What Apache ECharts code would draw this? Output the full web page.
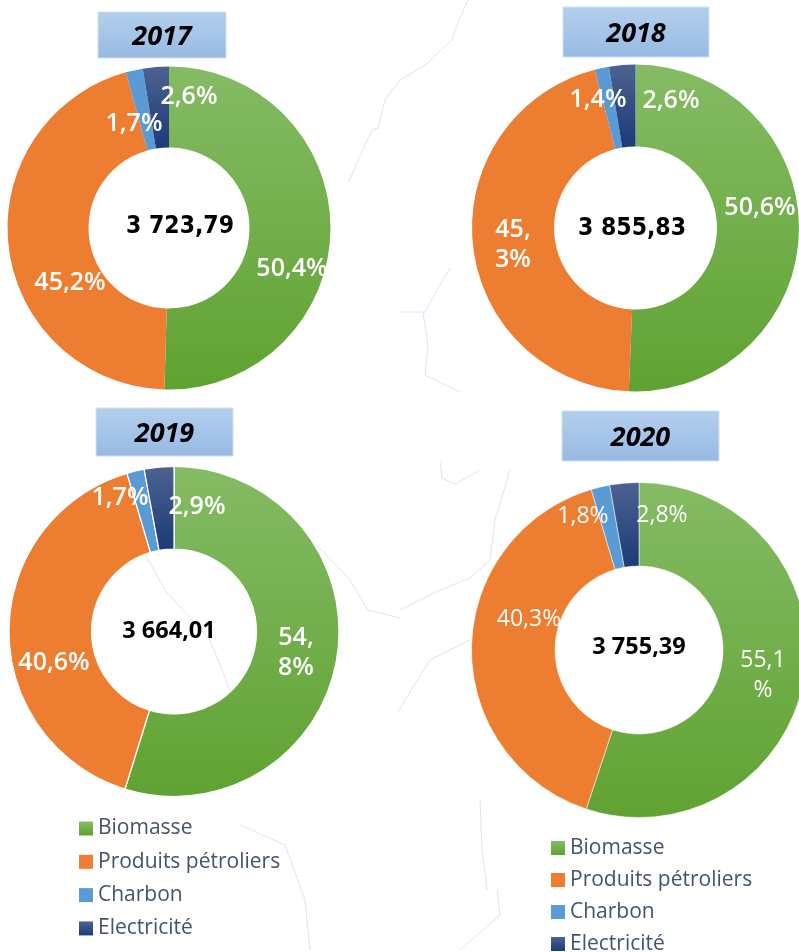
<!DOCTYPE html>
<html>
<head>
<meta charset="utf-8">
<title>Consommation d'énergie 2017-2020</title>
<script src="https://cdn.jsdelivr.net/npm/echarts@6/dist/echarts.min.js"></script>
<style>
  html, body { margin: 0; padding: 0; background: #fff; }
  #chart { width: 799px; height: 952px; }
</style>
</head>
<body>
<div id="chart"></div>
<script>
// Data
const categories = ['Biomasse', 'Produits pétroliers', 'Charbon', 'Electricité'];
const years = ['2017', '2018', '2019', '2020'];
const totals = ['3 723,79', '3 855,83', '3 664,01', '3 755,39'];
const values2017 = [50.4, 45.2, 1.7, 2.6];
const values2018 = [50.6, 45.3, 1.4, 2.6];
const values2019 = [54.8, 40.6, 1.7, 2.9];
const values2020 = [55.1, 40.3, 1.8, 2.8];
const labels2017 = ['50,4%', '45,2%', '1,7%', '2,6%'];
const labels2018 = ['50,6%', '45,\n3%', '1,4%', '2,6%'];
const labels2019 = ['54,\n8%', '40,6%', '1,7%', '2,9%'];
const labels2020 = ['55,1\n%', '40,3%', '1,8%', '2,8%'];

// Layout of each panel, measured on the reference
const panels = [
  { values: values2017, labels: labels2017, cx: 169, cy: 228, r0: 80.5, r: 161.5, box: [98, 12, 128, 46], total: [180, 227], bold: true, line: 0,
    labelPos: [[292, 269], [70, 283], [134, 124], [189, 97]] },
  { values: values2018, labels: labels2018, cx: 635.5, cy: 228, r0: 81.5, r: 163.5, box: [563, 7, 146, 50], total: [632, 229], bold: true, line: 0,
    labelPos: [[760, 208], [513, 245], [598, 100], [671, 101]] },
  { values: values2019, labels: labels2019, cx: 174, cy: 631.5, r0: 82.5, r: 165, box: [96, 408, 137, 48], total: [169, 631], bold: true, line: 1.2,
    labelPos: [[296, 653], [54, 663], [120, 498], [197, 507]] },
  { values: values2020, labels: labels2020, cx: 639, cy: 650, r0: 84, r: 167.5, box: [562, 411, 157, 50], total: [639, 647], bold: false, line: 0.5,
    labelPos: [[763, 675], [529, 619], [583, 516], [662, 515]] }
];

function vertical(top, bottom) {
  return new echarts.graphic.LinearGradient(0, 0, 0, 1, [
    { offset: 0, color: top },
    { offset: 1, color: bottom }
  ]);
}

const colors = [
  vertical('#85bb64', '#60a232'),
  '#ed7d31',
  '#5b9bd5',
  vertical('#4d6290', '#1b3a78')
];

// faint river lines of the map behind the charts
const mapLines = [
  [[349, 182], [358, 160], [372, 130], [378, 128], [385, 100], [400, 80], [425, 65], [452, 40], [458, 22], [468, 0]],
  [[450, 268], [437, 290], [425, 312], [400, 312]],
  [[423, 312], [428, 345], [425, 375], [460, 392]],
  [[440, 462], [442, 478], [455, 484], [480, 470]],
  [[510, 470], [495, 520], [490, 560], [470, 578], [440, 590], [400, 610]],
  [[470, 640], [430, 660], [405, 700], [398, 712]],
  [[317, 545], [350, 580], [368, 610], [400, 618]],
  [[240, 825], [285, 845], [305, 900], [310, 950]],
  [[480, 800], [482, 850], [487, 890]],
  [[497, 890], [500, 915], [460, 950]],
  [[140, 545], [165, 590], [210, 640], [230, 690]]
];

const graphics = [];
mapLines.forEach(points => {
  graphics.push({
    type: 'polyline',
    z: -10,
    shape: { points: points },
    style: { stroke: '#e6defa', lineWidth: 1, fill: null }
  });
});

panels.forEach((p, i) => {
  const [x, y, w, h] = p.box;
  graphics.push({
    type: 'rect',
    shape: { x: x, y: y, width: w, height: h },
    style: {
      fill: vertical('#b3cfed', '#97bae3'),
      stroke: '#cfe0f3',
      lineWidth: 1
    }
  });
  graphics.push({
    type: 'text',
    x: x + w / 2,
    y: y + h / 2 + 2,
    style: {
      text: years[i],
      fill: '#000',
      font: 'italic bold 27px "Open Sans"',
      align: 'center',
      verticalAlign: 'middle'
    }
  });
  graphics.push({
    type: 'text',
    x: p.total[0],
    y: p.total[1],
    style: {
      text: totals[i],
      fill: '#000',
      font: i < 2 ? 'bold 24.5px "DejaVu Sans Condensed"' : 'bold 23.5px "Open Sans"',
      align: 'center',
      verticalAlign: 'middle'
    }
  });
});

const series = panels.map((p, i) => ({
  type: 'pie',
  name: years[i],
  center: [p.cx, p.cy],
  radius: [p.r0, p.r],
  startAngle: 90,
  clockwise: true,
  avoidLabelOverlap: false,
  silent: true,
  animation: false,
  itemStyle: { borderColor: '#fff', borderWidth: p.line },
  label: {
    show: true,
    position: 'inside',
    color: '#fff',
    fontFamily: 'Open Sans',
    fontWeight: p.bold ? 600 : 'normal',
    fontSize: p.bold ? 25 : 23,
    lineHeight: 30,
    align: 'center',
    formatter: params => p.labels[params.dataIndex]
  },
  labelLine: { show: false },
  labelLayout: params => ({
    x: p.labelPos[params.dataIndex][0],
    y: p.labelPos[params.dataIndex][1],
    align: 'center',
    verticalAlign: 'middle'
  }),
  data: categories.map((name, k) => ({
    name: name,
    value: p.values[k],
    itemStyle: { color: colors[k] }
  }))
}));

function legendAt(left, top, gap) {
  return {
    orient: 'vertical',
    left: left,
    top: top,
    height: 150,
    padding: 0,
    itemWidth: 14,
    itemHeight: 14,
    itemGap: gap,
    selectedMode: false,
    icon: 'rect',
    textStyle: { color: '#44546a', fontFamily: 'Open Sans', fontSize: 21 },
    data: categories
  };
}

const chart = echarts.init(document.getElementById('chart'));
chart.setOption({
  animation: false,
  backgroundColor: '#fff',
  color: colors,
  legend: [legendAt(79, 818, 12.3), legendAt(551, 837.5, 11)],
  graphic: { elements: graphics },
  series: series
});
</script>
</body>
</html>
